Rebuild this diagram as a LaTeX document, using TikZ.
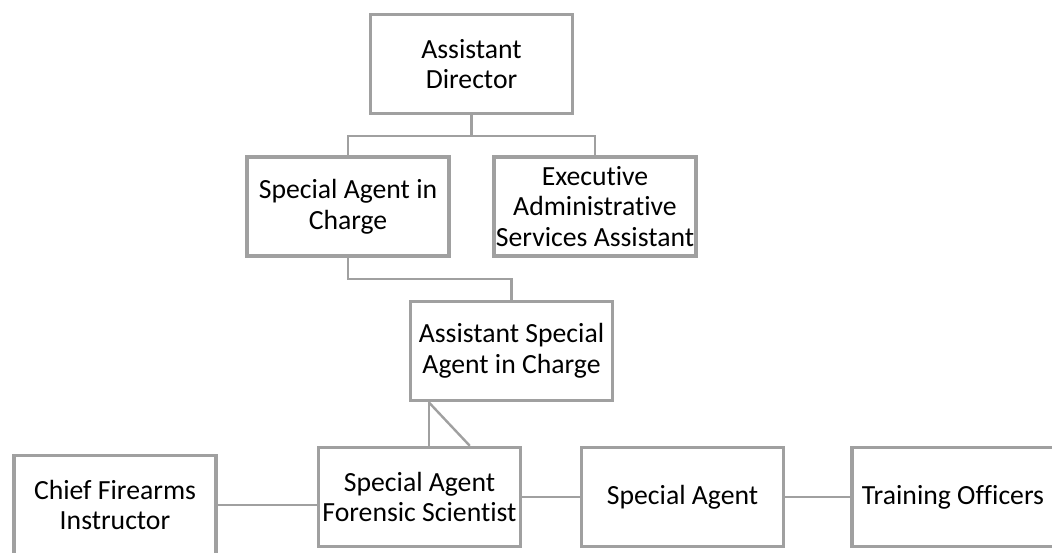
\documentclass[tikz,border=0pt]{standalone}
\usepackage{fontspec}
\setmainfont{Carlito}[Ligatures=NoCommon]
\usetikzlibrary{positioning,calc}
\definecolor{chartgray}{RGB}{160,160,160}

\begin{document}
\begin{tikzpicture}[x=0.5pt, y=-0.5pt,
    box/.style={draw=chartgray, line width=1.75pt, fill=white, minimum width=101pt,
      minimum height=49.5pt, inner sep=1pt, align=center,
      font=\fontsize{13.85}{15.3}\selectfont},
    link/.style={draw=chartgray, line width=1.2pt}]
        \useasboundingbox (0,0) rectangle (1052,552);
        % boxes
        \node[box] (ad) at (471.5,64) {Assistant\\Director};
        \node[box] (sac) at (348,206.5) {Special Agent in\\Charge};
        \node[box] (easa) at (595,206.5) {Executive\\Administrative\\Services Assistant};
        \node[box] (asac) at (511.5,351) {Assistant Special\\Agent in Charge};
        \node[box] (cfi) at (115,505) {Chief Firearms\\Instructor};
        \node[box] (safs) at (419.5,497) {Special Agent\\Forensic Scientist};
        \node[box] (sa) at (682.5,497) {Special Agent};
        \node[box] (trng) at (953,497) {Training Officers};

        % connectors
        \draw[link] (ad.south) -- ++(0,21) coordinate (adfork);
        \draw[link] (sac.north) |- (adfork) -| (easa.north);
        \draw[link] (sac.south) -- ++(0,21) -| (asac.north);
        \coordinate (asacfoot) at ($(asac.south west)+(20,0)$);
        \draw[link] (asacfoot) -- (asacfoot |- safs.north);
        \draw[link] (asacfoot) -- ($(safs.north west)+(153,0)$);
        \draw[link] (cfi.east) -- (cfi.east -| safs.west);
        \draw[link] (safs.east) -- (sa.west);
        \draw[link] (sa.east) -- (trng.west);
      \end{tikzpicture}
\end{document}
